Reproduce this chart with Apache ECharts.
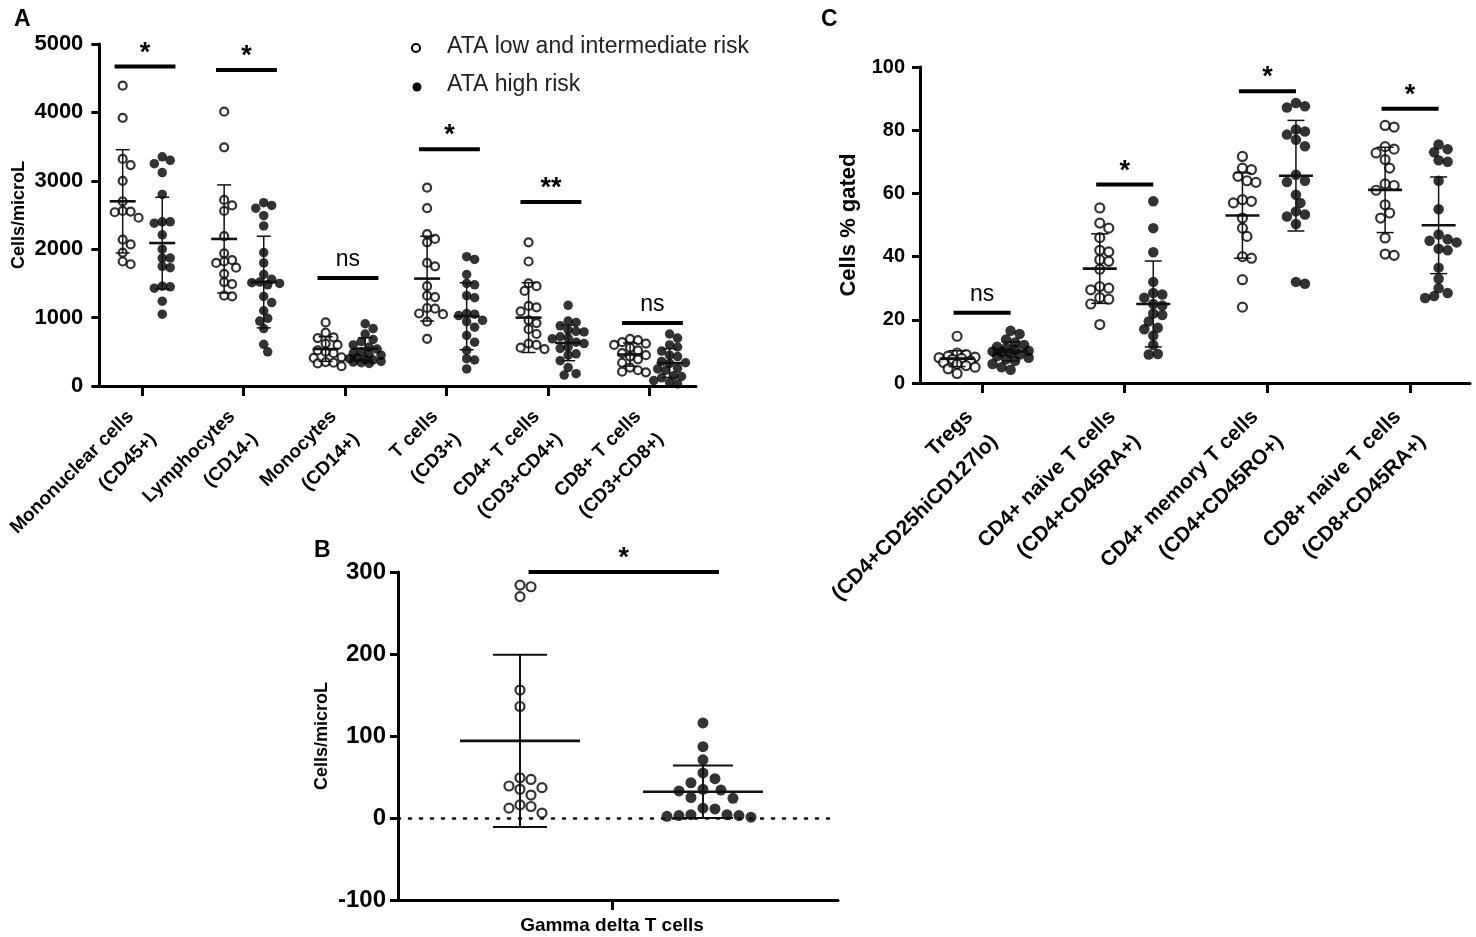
<!DOCTYPE html>
<html>
<head>
<meta charset="utf-8">
<title>Lymphocyte subsets by ATA risk</title>
<script src="https://cdn.jsdelivr.net/npm/echarts@6/dist/echarts.min.js"></script>
<style>
  html, body { margin: 0; padding: 0; background: #fff; }
  #chart { width: 1476px; height: 937px; }
</style>
</head>
<body>
<div id="chart"></div>
<script>
// ---- data ----
const catsA = ['Mononuclear cells\n(CD45+)', 'Lymphocytes\n(CD14-)', 'Monocytes\n(CD14+)',
               'T cells\n(CD3+)', 'CD4+ T cells\n(CD3+CD4+)', 'CD8+ T cells\n(CD3+CD8+)'];
const lowA = [
  [4390, 3920, 3320, 3230, 3000, 2700, 2560, 2550, 2540, 2460, 2140, 2070, 1950, 1820, 1780],
  [4010, 3490, 2720, 2640, 2560, 2190, 1940, 1840, 1820, 1800, 1730, 1640, 1520, 1490, 1320, 1310],
  [930, 780, 710, 700, 620, 600, 520, 500, 480, 420, 410, 350, 340, 330, 290],
  [2900, 2600, 2220, 2150, 2100, 1800, 1750, 1460, 1320, 1300, 1140, 1130, 1060, 1050, 940, 690],
  [2100, 1820, 1500, 1460, 1390, 1170, 1150, 1090, 960, 920, 830, 760, 620, 600, 560, 540],
  [690, 670, 640, 620, 600, 560, 520, 480, 450, 430, 390, 340, 270, 230, 210, 200]
];
const highA = [
  [3350, 3300, 3250, 3120, 2800, 2400, 2400, 2380, 2210, 2000, 1870, 1870, 1750, 1730, 1460, 1450, 1430, 1240, 1050],
  [2680, 2640, 2600, 2490, 2340, 1950, 1800, 1630, 1560, 1520, 1510, 1500, 1480, 1310, 1220, 1100, 990, 950, 840, 610, 500],
  [910, 840, 760, 680, 650, 600, 570, 540, 500, 480, 470, 450, 410, 400, 390, 380, 360, 350, 340, 330],
  [1890, 1850, 1630, 1500, 1480, 1320, 1290, 1060, 1050, 1030, 960, 940, 860, 740, 640, 520, 400, 380, 250],
  [1180, 950, 930, 880, 820, 800, 790, 720, 700, 690, 640, 620, 570, 550, 470, 450, 370, 270, 180, 160],
  [760, 700, 600, 570, 510, 450, 430, 360, 340, 330, 260, 250, 230, 150, 140, 120, 80, 50, 30]
];
const meanLowA = [2700, 2150, 540, 1570, 1000, 460];
const sdLowA = [755, 790, 180, 620, 510, 170];
const meanHighA = [2090, 1520, 546, 1020, 630, 335];
const sdHighA = [670, 670, 160, 490, 260, 210];
const sigA = ['*', '*', 'ns', '*', '**', 'ns'];
const sigYA = [4670, 4620, 1580, 3460, 2690, 920];
const ticksA = [0, 1000, 2000, 3000, 4000, 5000];

const catsB = ['Gamma delta T cells'];
const lowB = [284, 282, 270, 156, 136, 49, 47, 39, 37, 35, 28, 16, 14, 12, 6];
const highB = [116, 87, 71, 55, 48, 43, 35, 34, 33, 25, 24, 12, 11, 4, 4, 3, 3, 2, 1];
const meanB = [94, 32];
const sdB = [105, 32];
const sigB = ['*'];
const sigYB = [300];
const ticksB = [-100, 0, 100, 200, 300];

const catsC = ['Tregs\n(CD4+CD25hiCD127lo)', 'CD4+ naive T cells\n(CD4+CD45RA+)',
               'CD4+ memory T cells\n(CD4+CD45RO+)', 'CD8+ naive T cells\n(CD8+CD45RA+)'];
const lowC = [
  [14.8, 9.5, 9, 8.5, 8.2, 8, 7.8, 7.5, 7, 6.5, 6, 5.5, 5, 4.5, 3],
  [55.4, 50.6, 49, 46, 42, 41.5, 39, 38.5, 36, 30.5, 30, 29.5, 27, 26.5, 25, 18.5],
  [71.7, 68, 67.5, 65.4, 64, 63.5, 58, 57.5, 57, 52.2, 49, 46.4, 40, 39.5, 32.7, 24],
  [81.5, 81, 74.8, 74, 72.8, 70.7, 68, 63, 62.5, 61, 56.4, 53.8, 52.2, 45.9, 40.8, 40.4]
];
const highC = [
  [16.5, 15.5, 13.8, 12.8, 12, 11.5, 11, 10.5, 10.2, 10, 9.8, 9.5, 9, 8.5, 8, 7.5, 7, 6, 5, 4.2],
  [57.5, 49, 41.4, 32, 28.5, 28, 27, 25, 24.5, 22, 21.5, 19.5, 17.5, 17, 15, 12, 9.2, 9],
  [88.6, 87.6, 87.2, 80.2, 79.6, 78.6, 77, 74.9, 65.9, 64, 63.6, 59.6, 57, 54.3, 53.3, 52.7, 50.3, 32, 31.4],
  [75.5, 74, 73, 70.5, 70, 64, 55, 47, 45.5, 45, 44.5, 42.5, 42, 36.5, 33, 30, 28.5, 27.5, 26.9]
];
const meanLowC = [7.7, 36.2, 53, 61.1];
const sdLowC = [2.5, 11, 13.5, 13.5];
const meanHighC = [10, 25, 65.6, 49.9];
const sdHighC = [3, 13.6, 17.5, 15.3];
const sigC = ['ns', '*', '*', '*'];
const sigYC = [22.2, 62.8, 92.3, 86.8];
const ticksC = [0, 20, 40, 60, 80, 100];

const lowName = 'ATA low and intermediate risk';
const highName = 'ATA high risk';

// ---- layout ----
const FONT = 'Liberation Sans, Arial, Helvetica, sans-serif';
const GA = { left: 95, top: 44, width: 601, height: 342, xmin: -0.42, xmax: 5.46, ymin: 0, ymax: 5000 };
const GB = { left: 398, top: 572, width: 440, height: 328, xmin: -1, xmax: 1.056, ymin: -100, ymax: 300 };
const GC = { left: 920, top: 67, width: 550, height: 316, xmin: -0.435, xmax: 3.42, ymin: 0, ymax: 100 };
[GA, GB, GC].forEach(g => {
  g.pxX = g.width / (g.xmax - g.xmin);
  g.pxY = g.height / (g.ymax - g.ymin);
});

// beeswarm: spread points sideways, but keep each column narrow (points may overlap)
function swarm(values, center, g, gap, maxOff) {
  const placed = [];
  const out = new Array(values.length);
  const order = values.map((v, i) => i).sort((a, b) => values[b] - values[a]);
  order.forEach(i => {
    const y = values[i] * g.pxY;
    let best = 0, bestD = -1;
    for (let k = 0; k < 200; k++) {
      const off = (k % 2 ? 1 : -1) * Math.ceil(k / 2) * gap * 0.5;
      if (Math.abs(off) > maxOff) break;
      const d = placed.reduce((m, p) => Math.min(m, (p.x - off) ** 2 + (p.y - y) ** 2), Infinity);
      if (d >= gap * gap) { best = off; break; }
      if (d > bestD) { bestD = d; best = off; }
    }
    placed.push({ x: best, y: y });
    out[i] = [center + best / g.pxX, values[i]];
  });
  return out;
}
function points(groups, offset, g, gap, maxOff) {
  let pts = [];
  groups.forEach((vals, i) => { pts = pts.concat(swarm(vals, i + offset, g, gap, maxOff)); });
  return pts;
}

const openStyle = { color: '#fff', borderColor: '#000', borderWidth: 2.2 };
const fillStyle = { color: '#000', borderColor: '#000', borderWidth: 0 };

function scatter(name, idx, data, size, style, extra) {
  return Object.assign({
    name: name, type: 'scatter', xAxisIndex: idx, yAxisIndex: idx,
    symbol: 'circle', symbolSize: size, itemStyle: style, data: data, z: 2, silent: true
  }, extra || {});
}

function meanSd(idx, means, sds, offset, halfMean, halfCap, lw) {
  return {
    type: 'custom', xAxisIndex: idx, yAxisIndex: idx, z: 4, silent: true,
    data: means.map((m, i) => [i + offset, m, sds[i]]),
    renderItem: function (params, api) {
      const x = api.value(0), m = api.value(1), s = api.value(2);
      const c = api.coord([x, m]);
      const t = api.coord([x, m + s]);
      const b = api.coord([x, m - s]);
      const thin = { stroke: '#111', lineWidth: lw };
      return {
        type: 'group', children: [
          { type: 'line', shape: { x1: c[0], y1: t[1], x2: c[0], y2: b[1] }, style: thin },
          { type: 'line', shape: { x1: c[0] - halfCap, y1: t[1], x2: c[0] + halfCap, y2: t[1] }, style: thin },
          { type: 'line', shape: { x1: c[0] - halfCap, y1: b[1], x2: c[0] + halfCap, y2: b[1] }, style: thin },
          { type: 'line', shape: { x1: c[0] - halfMean, y1: c[1], x2: c[0] + halfMean, y2: c[1] },
            style: { stroke: '#111', lineWidth: 2.6 } }
        ]
      };
    }
  };
}

function sig(idx, ys, labels, x1, x2) {
  return {
    type: 'custom', xAxisIndex: idx, yAxisIndex: idx, z: 4, silent: true,
    data: ys.map((y, i) => [i, y]),
    renderItem: function (params, api) {
      const i = api.value(0), y = api.value(1);
      const a = api.coord([i + x1, y]), b = api.coord([i + x2, y]);
      const lab = labels[params.dataIndex];
      const star = lab.indexOf('*') >= 0;
      return {
        type: 'group', children: [
          { type: 'line', shape: { x1: a[0], y1: a[1], x2: b[0], y2: b[1] }, style: { stroke: '#000', lineWidth: 4 } },
          { type: 'text', x: (a[0] + b[0]) / 2, y: a[1] - (star ? 0 : 7),
            style: { text: lab, align: 'center', verticalAlign: 'bottom', fill: '#000',
                     font: star ? 'bold 27px ' + FONT : '23px ' + FONT } }
        ]
      };
    }
  };
}

function xAxisFor(gi, g, cats, rotate, size, lh, margin) {
  const vals = cats.map((c, i) => i);
  return {
    type: 'value', gridIndex: gi, min: g.xmin, max: g.xmax,
    axisLine: { onZero: false, lineStyle: { color: '#000', width: 3 } },
    axisTick: { customValues: vals, length: 10, lineStyle: { color: '#000', width: 3 } },
    axisLabel: {
      customValues: vals, rotate: rotate, margin: margin, color: '#000',
      fontFamily: FONT, fontWeight: 'bold', fontSize: size, lineHeight: lh,
      formatter: v => cats[Math.round(v)]
    },
    splitLine: { show: false }
  };
}
function yAxisFor(gi, g, ticks, name, nameSize, nameGap, labSize, labMargin) {
  return {
    type: 'value', gridIndex: gi, min: g.ymin, max: g.ymax, interval: ticks[1] - ticks[0],
    axisLine: { show: true, onZero: false, lineStyle: { color: '#000', width: 3 } },
    axisTick: { show: true, length: 8, lineStyle: { color: '#000', width: 3 } },
    axisLabel: { color: '#000', fontFamily: FONT, fontWeight: 'bold', fontSize: labSize, margin: labMargin,
                 formatter: v => String(v) },
    splitLine: { show: false },
    name: name, nameLocation: 'middle', nameGap: nameGap, nameRotate: 90,
    nameTextStyle: { color: '#000', fontFamily: FONT, fontWeight: 'bold', fontSize: nameSize }
  };
}

const option = {
  backgroundColor: '#fff',
  animation: false,
  grid: [
    { left: GA.left, top: GA.top, width: GA.width, height: GA.height },
    { left: GB.left, top: GB.top, width: GB.width, height: GB.height },
    { left: GC.left, top: GC.top, width: GC.width, height: GC.height }
  ],
  xAxis: [
    xAxisFor(0, GA, catsA, 45, 19, 32, 39),
    xAxisFor(1, GB, catsB, 0, 19, 22, 15),
    xAxisFor(2, GC, catsC, 45, 21, 35, 43)
  ],
  yAxis: [
    yAxisFor(0, GA, ticksA, 'Cells/microL', 18, 71, 22, 16),
    yAxisFor(1, GB, ticksB, 'Cells/microL', 18, 67, 24, 12),
    yAxisFor(2, GC, ticksC, 'Cells % gated', 22, 60, 20, 15)
  ],
  series: [
    scatter(lowName, 0, points(lowA, -0.19, GA, 8, 16), 8, openStyle),
    scatter(highName, 0, points(highA, 0.2, GA, 8, 16), 9.5, fillStyle),
    meanSd(0, meanLowA, sdLowA, -0.19, 13, 7, 1.5),
    meanSd(0, meanHighA, sdHighA, 0.2, 13, 7, 1.5),
    sig(0, sigYA, sigA, -0.27, 0.33),

    scatter(lowName, 1, points([lowB], -0.43, GB, 11, 60), 9, openStyle, {
      markLine: {
        silent: true, symbol: 'none', label: { show: false },
        lineStyle: { color: '#000', width: 2.5, type: [2, 9], cap: 'round' },
        data: [{ yAxis: 0 }]
      }
    }),
    scatter(highName, 1, points([highB], 0.425, GB, 12, 60), 11, fillStyle),
    meanSd(1, [meanB[0]], [sdB[0]], -0.43, 60, 27, 2),
    meanSd(1, [meanB[1]], [sdB[1]], 0.425, 60, 30, 2),
    sig(1, sigYB, sigB, -0.39, 0.5),

    scatter(lowName, 2, points(lowC, -0.175, GC, 9, 20), 9, openStyle),
    scatter(highName, 2, points(highC, 0.2, GC, 9, 20), 10.5, fillStyle),
    meanSd(2, meanLowC, sdLowC, -0.175, 17, 8.5, 1.5),
    meanSd(2, meanHighC, sdHighC, 0.2, 17, 8.5, 1.5),
    sig(2, sigYC, sigC, -0.2, 0.2)
  ],
  graphic: [
    { type: 'text', left: 14, top: 8, style: { text: 'A', font: 'bold 23px ' + FONT, fill: '#000' } },
    { type: 'text', left: 314, top: 539, style: { text: 'B', font: 'bold 23px ' + FONT, fill: '#000' } },
    { type: 'text', left: 821, top: 8, style: { text: 'C', font: 'bold 23px ' + FONT, fill: '#000' } },
    { type: 'circle', shape: { cx: 416, cy: 48, r: 4 }, style: { fill: '#fff', stroke: '#000', lineWidth: 2 } },
    { type: 'circle', shape: { cx: 417, cy: 87, r: 4.5 }, style: { fill: '#000' } },
    { type: 'text', x: 447, y: 47, style: { text: lowName, font: '23px ' + FONT, fill: '#222', verticalAlign: 'middle' } },
    { type: 'text', x: 447, y: 85, style: { text: highName, font: '23px ' + FONT, fill: '#222', verticalAlign: 'middle' } }
  ]
};

const chart = echarts.init(document.getElementById('chart'));
chart.setOption(option);
window.addEventListener('resize', function () { chart.resize(); });
</script>
</body>
</html>
